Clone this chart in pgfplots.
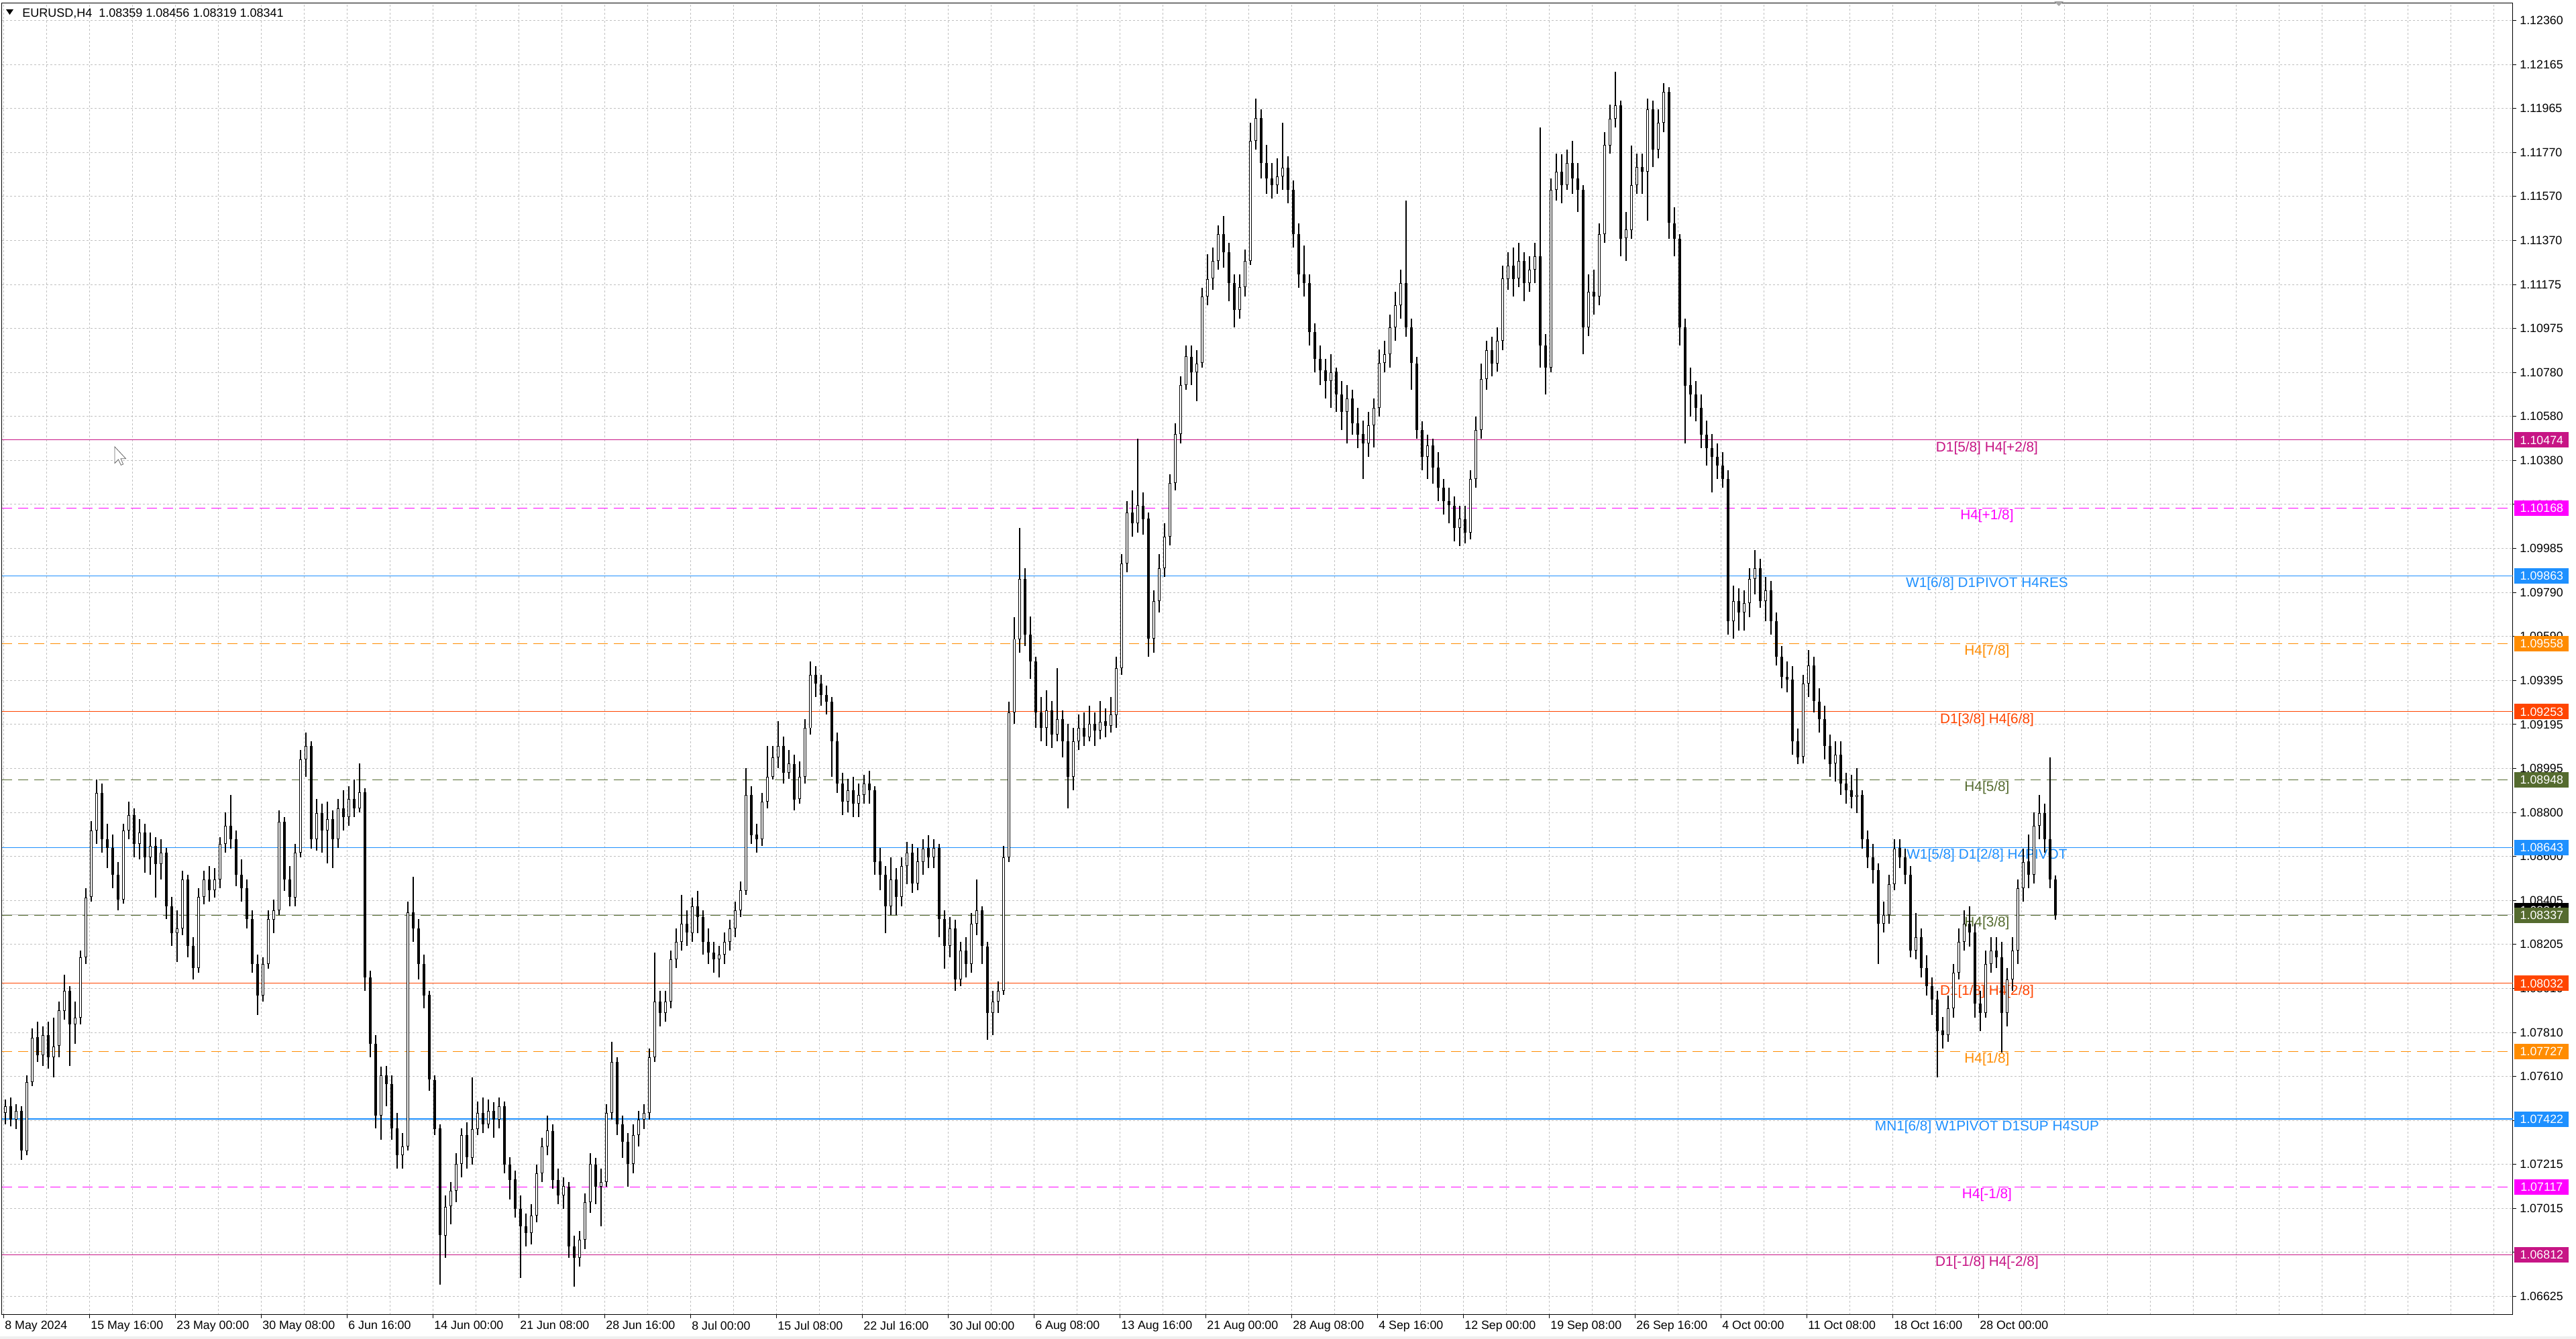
\documentclass[border=0pt]{standalone}
\usepackage{fontspec}
\setmainfont{Liberation Sans}
\usepackage{pgfplots}
\usepackage{pgfplotstable}
\pgfplotsset{compat=1.18}

\definecolor{mvred}{RGB}{199,21,133}
\definecolor{mag}{RGB}{255,0,255}
\definecolor{dblue}{RGB}{30,144,255}
\definecolor{dorange}{RGB}{255,140,0}
\definecolor{ored}{RGB}{255,69,0}
\definecolor{dolive}{RGB}{85,107,47}
\definecolor{gridc}{RGB}{192,192,192}

% EURUSD H4, one row per two H4 bars: open high low close
\pgfplotstableread{
o h l c
1.0745 1.0751 1.0740 1.0748
1.0748 1.0752 1.0739 1.0742
1.0742 1.0749 1.0738 1.0746
1.0746 1.0748 1.0724 1.0728
1.0728 1.0762 1.0726 1.0759
1.0759 1.0783 1.0757 1.0779
1.0779 1.0786 1.0768 1.0771
1.0771 1.0784 1.0766 1.0780
1.0780 1.0786 1.0765 1.0770
1.0770 1.0788 1.0761 1.0775
1.0775 1.0795 1.0770 1.0791
1.0791 1.0807 1.0787 1.0800
1.0800 1.0802 1.0766 1.0785
1.0785 1.0795 1.0776 1.0788
1.0788 1.0818 1.0785 1.0815
1.0815 1.0846 1.0812 1.0842
1.0842 1.0876 1.0840 1.0872
1.0872 1.0895 1.0866 1.0889
1.0889 1.0893 1.0862 1.0868
1.0868 1.0875 1.0855 1.0864
1.0864 1.0870 1.0846 1.0852
1.0852 1.0858 1.0836 1.0841
1.0841 1.0875 1.0839 1.0872
1.0872 1.0885 1.0868 1.0879
1.0879 1.0882 1.0860 1.0866
1.0866 1.0877 1.0859 1.0871
1.0871 1.0875 1.0853 1.0860
1.0860 1.0871 1.0852 1.0865
1.0865 1.0869 1.0842 1.0857
1.0857 1.0868 1.0850 1.0862
1.0862 1.0864 1.0832 1.0838
1.0838 1.0842 1.0820 1.0826
1.0826 1.0836 1.0813 1.0828
1.0828 1.0854 1.0825 1.0850
1.0850 1.0852 1.0815 1.0820
1.0820 1.0824 1.0805 1.0810
1.0810 1.0846 1.0808 1.0842
1.0842 1.0854 1.0839 1.0850
1.0850 1.0856 1.0840 1.0845
1.0845 1.0855 1.0842 1.0850
1.0850 1.0869 1.0846 1.0866
1.0866 1.0880 1.0862 1.0874
1.0874 1.0888 1.0864 1.0868
1.0868 1.0872 1.0847 1.0852
1.0852 1.0859 1.0840 1.0846
1.0846 1.0850 1.0828 1.0832
1.0832 1.0836 1.0808 1.0812
1.0812 1.0816 1.0789 1.0798
1.0798 1.0815 1.0795 1.0812
1.0812 1.0836 1.0810 1.0832
1.0832 1.0841 1.0826 1.0836
1.0836 1.0881 1.0834 1.0876
1.0876 1.0878 1.0845 1.0850
1.0850 1.0856 1.0838 1.0842
1.0842 1.0866 1.0838 1.0862
1.0862 1.0908 1.0860 1.0904
1.0904 1.0916 1.0896 1.0910
1.0910 1.0912 1.0864 1.0868
1.0868 1.0886 1.0863 1.0880
1.0880 1.0884 1.0862 1.0872
1.0872 1.0885 1.0857 1.0877
1.0877 1.0881 1.0855 1.0868
1.0868 1.0886 1.0864 1.0882
1.0882 1.0890 1.0872 1.0878
1.0878 1.0892 1.0874 1.0886
1.0886 1.0895 1.0878 1.0882
1.0882 1.0902 1.0880 1.0889
1.0889 1.0891 1.0800 1.0806
1.0806 1.0809 1.0770 1.0776
1.0776 1.0780 1.0738 1.0744
1.0744 1.0766 1.0733 1.0762
1.0762 1.0766 1.0748 1.0758
1.0758 1.0762 1.0733 1.0738
1.0738 1.0745 1.0720 1.0726
1.0726 1.0736 1.0720 1.0730
1.0730 1.0840 1.0728 1.0835
1.0835 1.0851 1.0822 1.0828
1.0828 1.0832 1.0805 1.0812
1.0812 1.0816 1.0792 1.0798
1.0798 1.0800 1.0755 1.0760
1.0760 1.0762 1.0735 1.0738
1.0738 1.0740 1.0668 1.0690
1.0690 1.0708 1.0680 1.0703
1.0703 1.0714 1.0695 1.0710
1.0710 1.0727 1.0705 1.0722
1.0722 1.0738 1.0716 1.0735
1.0735 1.0741 1.0720 1.0725
1.0725 1.0761 1.0722 1.0738
1.0738 1.0750 1.0735 1.0745
1.0745 1.0752 1.0736 1.0740
1.0740 1.0751 1.0738 1.0746
1.0746 1.0750 1.0734 1.0742
1.0742 1.0752 1.0738 1.0748
1.0748 1.0750 1.0718 1.0722
1.0722 1.0725 1.0706 1.0715
1.0715 1.0719 1.0698 1.0702
1.0702 1.0708 1.0671 1.0694
1.0694 1.0700 1.0685 1.0691
1.0691 1.0704 1.0686 1.0699
1.0699 1.0722 1.0696 1.0718
1.0718 1.0734 1.0714 1.0730
1.0730 1.0744 1.0726 1.0737
1.0737 1.0740 1.0711 1.0715
1.0715 1.0720 1.0704 1.0708
1.0708 1.0716 1.0702 1.0712
1.0712 1.0714 1.0680 1.0685
1.0685 1.0690 1.0667 1.0680
1.0680 1.0692 1.0676 1.0688
1.0688 1.0709 1.0684 1.0705
1.0705 1.0727 1.0700 1.0722
1.0722 1.0725 1.0704 1.0712
1.0712 1.0720 1.0694 1.0714
1.0714 1.0749 1.0712 1.0745
1.0745 1.0777 1.0742 1.0768
1.0768 1.0770 1.0735 1.0740
1.0740 1.0744 1.0725 1.0732
1.0732 1.0736 1.0712 1.0722
1.0722 1.0740 1.0718 1.0735
1.0735 1.0746 1.0730 1.0742
1.0742 1.0749 1.0738 1.0745
1.0745 1.0774 1.0742 1.0770
1.0770 1.0817 1.0768 1.0795
1.0795 1.0800 1.0784 1.0790
1.0790 1.0800 1.0786 1.0795
1.0795 1.0818 1.0792 1.0814
1.0814 1.0828 1.0810 1.0822
1.0822 1.0843 1.0818 1.0830
1.0830 1.0836 1.0820 1.0826
1.0826 1.0842 1.0822 1.0838
1.0838 1.0845 1.0826 1.0833
1.0833 1.0836 1.0816 1.0822
1.0822 1.0828 1.0812 1.0817
1.0817 1.0822 1.0808 1.0814
1.0814 1.0820 1.0806 1.0816
1.0816 1.0826 1.0812 1.0822
1.0822 1.0832 1.0818 1.0828
1.0828 1.0840 1.0824 1.0836
1.0836 1.0849 1.0833 1.0845
1.0845 1.0900 1.0843 1.0888
1.0888 1.0892 1.0866 1.0870
1.0870 1.0875 1.0862 1.0868
1.0868 1.0889 1.0865 1.0885
1.0885 1.0910 1.0882 1.0896
1.0896 1.0910 1.0895 1.0905
1.0905 1.0921 1.0900 1.0910
1.0910 1.0914 1.0893 1.0898
1.0898 1.0908 1.0895 1.0902
1.0902 1.0906 1.0881 1.0886
1.0886 1.0903 1.0884 1.0896
1.0896 1.0922 1.0893 1.0918
1.0918 1.0948 1.0915 1.0942
1.0942 1.0946 1.0932 1.0938
1.0938 1.0942 1.0928 1.0933
1.0933 1.0937 1.0924 1.0930
1.0930 1.0932 1.0896 1.0912
1.0912 1.0916 1.0889 1.0893
1.0893 1.0898 1.0879 1.0885
1.0885 1.0895 1.0880 1.0890
1.0890 1.0896 1.0878 1.0884
1.0884 1.0893 1.0878 1.0888
1.0888 1.0897 1.0884 1.0893
1.0893 1.0899 1.0884 1.0890
1.0890 1.0892 1.0852 1.0858
1.0858 1.0864 1.0845 1.0852
1.0852 1.0856 1.0826 1.0838
1.0838 1.0860 1.0834 1.0850
1.0850 1.0855 1.0834 1.0842
1.0842 1.0860 1.0838 1.0856
1.0856 1.0867 1.0848 1.0862
1.0862 1.0866 1.0844 1.0848
1.0848 1.0864 1.0845 1.0858
1.0858 1.0868 1.0852 1.0864
1.0864 1.0870 1.0855 1.0860
1.0860 1.0868 1.0855 1.0864
1.0864 1.0866 1.0824 1.0832
1.0832 1.0836 1.0810 1.0820
1.0820 1.0833 1.0815 1.0828
1.0828 1.0832 1.0800 1.0805
1.0805 1.0822 1.0802 1.0818
1.0818 1.0824 1.0806 1.0812
1.0812 1.0835 1.0808 1.0830
1.0830 1.0850 1.0825 1.0836
1.0836 1.0838 1.0812 1.0820
1.0820 1.0822 1.0778 1.0790
1.0790 1.0800 1.0780 1.0795
1.0795 1.0804 1.0790 1.0800
1.0800 1.0865 1.0798 1.0860
1.0860 1.0930 1.0858 1.0925
1.0925 1.0968 1.0920 1.0958
1.0958 1.1008 1.0952 1.0985
1.0985 1.0990 1.0955 1.0960
1.0960 1.0968 1.0940 1.0948
1.0948 1.0950 1.0918 1.0925
1.0925 1.0932 1.0912 1.0918
1.0918 1.0935 1.0910 1.0926
1.0926 1.0930 1.0909 1.0915
1.0915 1.0945 1.0912 1.0922
1.0922 1.0926 1.0905 1.0912
1.0912 1.0920 1.0882 1.0896
1.0896 1.0918 1.0890 1.0912
1.0912 1.0924 1.0908 1.0918
1.0918 1.0925 1.0910 1.0914
1.0914 1.0928 1.0912 1.0920
1.0920 1.0925 1.0910 1.0917
1.0917 1.0930 1.0913 1.0921
1.0921 1.0927 1.0914 1.0919
1.0919 1.0932 1.0916 1.0924
1.0924 1.0950 1.0918 1.0945
1.0945 1.0996 1.0942 1.0992
1.0992 1.1020 1.0988 1.1015
1.1015 1.1025 1.1004 1.1010
1.1010 1.1048 1.1006 1.1018
1.1018 1.1024 1.1005 1.1012
1.1012 1.1015 1.0950 1.0958
1.0958 1.0980 1.0952 1.0975
1.0975 1.0996 1.0970 1.0990
1.0990 1.1010 1.0986 1.1004
1.1004 1.1032 1.1000 1.1028
1.1028 1.1055 1.1025 1.1050
1.1050 1.1076 1.1046 1.1072
1.1072 1.1090 1.1070 1.1085
1.1085 1.1090 1.1072 1.1078
1.1078 1.1088 1.1065 1.1082
1.1082 1.1116 1.1080 1.1112
1.1112 1.1131 1.1108 1.1120
1.1120 1.1134 1.1115 1.1128
1.1128 1.1144 1.1124 1.1140
1.1140 1.1148 1.1125 1.1132
1.1132 1.1136 1.1110 1.1118
1.1118 1.1122 1.1098 1.1106
1.1106 1.1122 1.1102 1.1116
1.1116 1.1133 1.1112 1.1128
1.1128 1.1190 1.1126 1.1182
1.1182 1.1201 1.1178 1.1192
1.1192 1.1196 1.1165 1.1172
1.1172 1.1180 1.1158 1.1165
1.1165 1.1172 1.1156 1.1162
1.1162 1.1174 1.1158 1.1166
1.1166 1.1190 1.1160 1.1170
1.1170 1.1175 1.1154 1.1160
1.1160 1.1164 1.1134 1.1140
1.1140 1.1145 1.1116 1.1122
1.1122 1.1135 1.1112 1.1118
1.1118 1.1122 1.1090 1.1096
1.1096 1.1100 1.1078 1.1084
1.1084 1.1090 1.1072 1.1079
1.1079 1.1084 1.1066 1.1074
1.1074 1.1086 1.1062 1.1078
1.1078 1.1080 1.1060 1.1068
1.1068 1.1074 1.1052 1.1060
1.1060 1.1072 1.1046 1.1066
1.1066 1.1070 1.1050 1.1055
1.1055 1.1062 1.1044 1.1050
1.1050 1.1056 1.1030 1.1046
1.1046 1.1060 1.1040 1.1054
1.1054 1.1066 1.1044 1.1062
1.1062 1.1088 1.1058 1.1082
1.1082 1.1092 1.1078 1.1086
1.1086 1.1104 1.1080 1.1098
1.1098 1.1114 1.1092 1.1108
1.1108 1.1124 1.1102 1.1118
1.1118 1.1155 1.1094 1.1098
1.1098 1.1102 1.1070 1.1082
1.1082 1.1085 1.1048 1.1052
1.1052 1.1056 1.1034 1.1040
1.1040 1.1050 1.1030 1.1045
1.1045 1.1048 1.1028 1.1035
1.1035 1.1042 1.1020 1.1026
1.1026 1.1030 1.1014 1.1020
1.1020 1.1026 1.1010 1.1018
1.1018 1.1022 1.1002 1.1008
1.1008 1.1018 1.1000 1.1012
1.1012 1.1018 1.1001 1.1006
1.1006 1.1034 1.1003 1.1030
1.1030 1.1058 1.1026 1.1052
1.1052 1.1082 1.1048 1.1075
1.1075 1.1092 1.1070 1.1088
1.1088 1.1094 1.1076 1.1082
1.1082 1.1098 1.1078 1.1092
1.1092 1.1126 1.1088 1.1120
1.1120 1.1132 1.1115 1.1126
1.1126 1.1134 1.1112 1.1120
1.1120 1.1136 1.1116 1.1128
1.1128 1.1132 1.1110 1.1118
1.1118 1.1130 1.1114 1.1124
1.1124 1.1136 1.1118 1.1130
1.1130 1.1188 1.1080 1.1090
1.1090 1.1095 1.1068 1.1080
1.1080 1.1165 1.1078 1.1160
1.1160 1.1176 1.1155 1.1168
1.1168 1.1176 1.1154 1.1162
1.1162 1.1178 1.1160 1.1172
1.1172 1.1182 1.1158 1.1165
1.1165 1.1172 1.1150 1.1160
1.1160 1.1162 1.1086 1.1098
1.1098 1.1122 1.1094 1.1114
1.1114 1.1124 1.1104 1.1112
1.1112 1.1145 1.1108 1.1140
1.1140 1.1186 1.1136 1.1180
1.1180 1.1198 1.1176 1.1192
1.1192 1.1213 1.1188 1.1198
1.1198 1.1200 1.1130 1.1138
1.1138 1.1150 1.1128 1.1142
1.1142 1.1180 1.1138 1.1162
1.1162 1.1176 1.1158 1.1170
1.1170 1.1176 1.1158 1.1168
1.1168 1.1201 1.1146 1.1196
1.1196 1.1200 1.1170 1.1178
1.1178 1.1196 1.1174 1.1190
1.1190 1.1208 1.1186 1.1204
1.1204 1.1206 1.1138 1.1145
1.1145 1.1152 1.1130 1.1138
1.1138 1.1140 1.1090 1.1098
1.1098 1.1102 1.1046 1.1072
1.1072 1.1080 1.1058 1.1068
1.1068 1.1074 1.1056 1.1062
1.1062 1.1068 1.1044 1.1050
1.1050 1.1056 1.1036 1.1044
1.1044 1.1050 1.1024 1.1040
1.1040 1.1046 1.1030 1.1036
1.1036 1.1042 1.1026 1.1030
1.1030 1.1034 1.0960 1.0966
1.0966 1.0982 1.0958 1.0975
1.0975 1.0981 1.0962 1.0970
1.0970 1.0980 1.0962 1.0974
1.0974 1.0990 1.0968 1.0985
1.0985 1.0998 1.0978 1.0990
1.0990 1.0994 1.0972 1.0975
1.0975 1.0986 1.0966 1.0980
1.0980 1.0984 1.0960 1.0966
1.0966 1.0970 1.0946 1.0950
1.0950 1.0955 1.0936 1.0941
1.0941 1.0948 1.0934 1.0940
1.0940 1.0946 1.0906 1.0912
1.0912 1.0918 1.0902 1.0905
1.0905 1.0942 1.0902 1.0938
1.0938 1.0953 1.0932 1.0946
1.0946 1.0950 1.0925 1.0930
1.0930 1.0936 1.0916 1.0922
1.0922 1.0928 1.0904 1.0910
1.0910 1.0915 1.0896 1.0902
1.0902 1.0912 1.0894 1.0906
1.0906 1.0912 1.0888 1.0893
1.0893 1.0898 1.0884 1.0890
1.0890 1.0897 1.0882 1.0887
1.0887 1.0900 1.0880 1.0888
1.0888 1.0890 1.0864 1.0868
1.0868 1.0872 1.0855 1.0860
1.0860 1.0866 1.0848 1.0854
1.0854 1.0857 1.0812 1.0830
1.0830 1.0840 1.0826 1.0834
1.0834 1.0852 1.0830 1.0848
1.0848 1.0868 1.0845 1.0864
1.0864 1.0868 1.0855 1.0860
1.0860 1.0864 1.0848 1.0852
1.0852 1.0856 1.0815 1.0818
1.0818 1.0835 1.0814 1.0824
1.0824 1.0828 1.0806 1.0810
1.0810 1.0816 1.0798 1.0802
1.0802 1.0806 1.0789 1.0796
1.0796 1.0800 1.0761 1.0782
1.0782 1.0788 1.0774 1.0780
1.0780 1.0798 1.0777 1.0792
1.0792 1.0812 1.0788 1.0808
1.0808 1.0828 1.0805 1.0822
1.0822 1.0836 1.0818 1.0830
1.0830 1.0838 1.0820 1.0826
1.0826 1.0830 1.0788 1.0794
1.0794 1.0800 1.0782 1.0790
1.0790 1.0818 1.0788 1.0812
1.0812 1.0824 1.0808 1.0818
1.0818 1.0824 1.0810 1.0815
1.0815 1.0822 1.0772 1.0790
1.0790 1.0810 1.0784 1.0805
1.0805 1.0824 1.0800 1.0818
1.0818 1.0850 1.0812 1.0846
1.0846 1.0864 1.0840 1.0858
1.0858 1.0870 1.0846 1.0852
1.0852 1.0880 1.0848 1.0874
1.0874 1.0888 1.0868 1.0880
1.0880 1.0884 1.0862 1.0868
1.0868 1.0905 1.0846 1.0850
1.0850 1.0852 1.08319 1.08341
}\candles

\begin{document}
\begin{tikzpicture}
\fill[white] (0,0) rectangle (1920pt,998pt);
\fill[black!6] (0,0) rectangle (1920pt,2pt);
\path[use as bounding box] (0,0) rectangle (1920pt,998pt);
\begin{axis}[
    at={(1.5pt,18pt)}, anchor=south west,
    width=1871.5pt, height=977.5pt, scale only axis,
    xmin=-0.75, xmax=935,
    ymin=1.065424, ymax=1.124368,
    axis line style={black, line width=0.5pt},
    xtick={0,32,...,736},
    xticklabels={8 May 2024,15 May 16:00,23 May 00:00,30 May 08:00,6 Jun 16:00,14 Jun 00:00,21 Jun 08:00,28 Jun 16:00,8 Jul 00:00,15 Jul 08:00,22 Jul 16:00,30 Jul 00:00,6 Aug 08:00,13 Aug 16:00,21 Aug 00:00,28 Aug 08:00,4 Sep 16:00,12 Sep 00:00,19 Sep 08:00,26 Sep 16:00,4 Oct 00:00,11 Oct 08:00,18 Oct 16:00,28 Oct 00:00},
    minor xtick={0,16,...,928},
    ytick={1.123600,1.121622,1.119645,1.117667,1.115690,1.113712,1.111734,1.109757,1.107779,1.105802,1.103824,1.101847,1.099869,1.097891,1.095914,1.093936,1.091959,1.089981,1.088003,1.086026,1.084048,1.082071,1.080093,1.078116,1.076138,1.074160,1.072183,1.070205,1.068228,1.066250},
    yticklabels={1.12360,1.12165,1.11965,1.11770,1.11570,1.11370,1.11175,1.10975,1.10780,1.10580,1.10380,1.10185,1.09985,1.09790,1.09590,1.09395,1.09195,1.08995,1.08800,1.08600,1.08405,1.08205,1.08010,1.07810,1.07610,1.07415,1.07215,1.07015,1.06820,1.06625},
    xminorgrids=true, xmajorgrids=false, ymajorgrids=true,
    major grid style={gridc, line width=0.5pt, dash pattern=on 1.5pt off 1.5pt},
    minor grid style={gridc, line width=0.5pt, dash pattern=on 1.5pt off 1.5pt},
    xtick pos=bottom, ytick pos=right, yticklabel pos=right,
    tick align=outside, major tick length=2.5pt, minor tick length=0pt,
    tick style={black, line width=0.5pt},
    xticklabel style={font=\fontsize{8.9}{10}\selectfont, anchor=north west, inner sep=0pt, xshift=0.5pt, yshift=-2pt},
    yticklabel style={font=\fontsize{8.9}{10}\selectfont, anchor=west, inner sep=0pt, xshift=2.5pt},
]
% level lines
\addplot[mvred, line width=0.5pt] coordinates {(-0.75,1.10474) (935,1.10474)};
\addplot[mag, line width=0.5pt, dash pattern=on 7.5pt off 4.5pt] coordinates {(-0.75,1.10168) (935,1.10168)};
\addplot[dblue, line width=0.5pt] coordinates {(-0.75,1.09863) (935,1.09863)};
\addplot[dorange, line width=0.5pt, dash pattern=on 7.5pt off 4.5pt] coordinates {(-0.75,1.09558) (935,1.09558)};
\addplot[ored, line width=0.5pt] coordinates {(-0.75,1.09253) (935,1.09253)};
\addplot[dolive, line width=0.5pt, dash pattern=on 7.5pt off 4.5pt] coordinates {(-0.75,1.08948) (935,1.08948)};
\addplot[dblue, line width=0.5pt] coordinates {(-0.75,1.08643) (935,1.08643)};
\addplot[gridc, line width=0.5pt] coordinates {(-0.75,1.08341) (935,1.08341)};
\addplot[dolive, line width=0.5pt, dash pattern=on 7.5pt off 4.5pt] coordinates {(-0.75,1.08337) (935,1.08337)};
\addplot[ored, line width=0.5pt] coordinates {(-0.75,1.08032) (935,1.08032)};
\addplot[dorange, line width=0.5pt, dash pattern=on 7.5pt off 4.5pt] coordinates {(-0.75,1.07727) (935,1.07727)};
\addplot[dblue, line width=1pt] coordinates {(-0.75,1.07422) (935,1.07422)};
\addplot[mag, line width=0.5pt, dash pattern=on 7.5pt off 4.5pt] coordinates {(-0.75,1.07117) (935,1.07117)};
\addplot[mvred, line width=0.5pt] coordinates {(-0.75,1.06812) (935,1.06812)};

% level names
\begin{scope}[every node/.style={anchor=north, inner sep=0pt, yshift=-0.8pt, font=\fontsize{10.4}{12}\selectfont}]
\node[text=mvred]   at (axis cs:739,1.10474) {D1[5/8] H4[+2/8]};
\node[text=mag]     at (axis cs:739,1.10168) {H4[+1/8]};
\node[text=dblue]   at (axis cs:739,1.09863) {W1[6/8] D1PIVOT H4RES};
\node[text=dorange] at (axis cs:739,1.09558) {H4[7/8]};
\node[text=ored]    at (axis cs:739,1.09253) {D1[3/8] H4[6/8]};
\node[text=dolive]  at (axis cs:739,1.08948) {H4[5/8]};
\node[text=dblue]   at (axis cs:739,1.08643) {W1[5/8] D1[2/8] H4PIVOT};
\node[text=dolive]  at (axis cs:739,1.08337) {H4[3/8]};
\node[text=ored]    at (axis cs:739,1.08032) {D1[1/8] H4[2/8]};
\node[text=dorange] at (axis cs:739,1.07727) {H4[1/8]};
\node[text=dblue]   at (axis cs:739,1.07422) {MN1[6/8] W1PIVOT D1SUP H4SUP};
\node[text=mag]     at (axis cs:739,1.07117) {H4[-1/8]};
\node[text=mvred]   at (axis cs:739,1.06812) {D1[-1/8] H4[-2/8]};
\end{scope}

% candles: wicks, bodies, hollow inside of bull bodies
\addplot[draw=none, mark=none, forget plot,
    error bars/.cd, y dir=both, y explicit, error mark=none,
    error bar style={draw=black, solid, line width=0.6pt}]
    table[x expr=2*\coordindex+0.5, y expr={(\thisrow{h}+\thisrow{l})/2},
          y error expr={(\thisrow{h}-\thisrow{l})/2}] {\candles};
\addplot[draw=none, mark=none, forget plot,
    error bars/.cd, y dir=both, y explicit, error mark=none,
    error bar style={draw=black, solid, line width=2.4pt}]
    table[x expr=2*\coordindex+0.5, y expr={(\thisrow{o}+\thisrow{c})/2},
          y error expr={max(abs(\thisrow{c}-\thisrow{o})/2,0.000016)}] {\candles};
\addplot[draw=none, mark=none, forget plot,
    error bars/.cd, y dir=both, y explicit, error mark=none,
    error bar style={draw=white, solid, line width=1.1pt}]
    table[x expr=2*\coordindex+0.5, y expr={(\thisrow{o}+\thisrow{c})/2},
          y error expr={max((\thisrow{c}-\thisrow{o})/2-0.00003,0)}] {\candles};

\coordinate (L1) at (axis cs:935,1.10474);
\coordinate (L2) at (axis cs:935,1.10168);
\coordinate (L3) at (axis cs:935,1.09863);
\coordinate (L4) at (axis cs:935,1.09558);
\coordinate (L5) at (axis cs:935,1.09253);
\coordinate (L6) at (axis cs:935,1.08948);
\coordinate (L7) at (axis cs:935,1.08643);
\coordinate (LB) at (axis cs:935,1.08341);
\coordinate (L8) at (axis cs:935,1.08337);
\coordinate (L9) at (axis cs:935,1.08032);
\coordinate (L10) at (axis cs:935,1.07727);
\coordinate (L11) at (axis cs:935,1.07422);
\coordinate (L12) at (axis cs:935,1.07117);
\coordinate (L13) at (axis cs:935,1.06812);
\end{axis}

% price boxes on the scale
\begin{scope}[every node/.style={anchor=west, xshift=1pt, inner sep=0pt, minimum width=40.5pt, minimum height=11.5pt, text=white, font=\fontsize{8.9}{10}\selectfont}]
\node[fill=mvred]   at (L1) {1.10474};
\node[fill=mag]     at (L2) {1.10168};
\node[fill=dblue]   at (L3) {1.09863};
\node[fill=dorange] at (L4) {1.09558};
\node[fill=ored]    at (L5) {1.09253};
\node[fill=dolive]  at (L6) {1.08948};
\node[fill=dblue]   at (L7) {1.08643};
\node[fill=black, yshift=3pt] at (LB) {1.08341};
\node[fill=dolive]  at (L8) {1.08337};
\node[fill=ored]    at (L9) {1.08032};
\node[fill=dorange] at (L10) {1.07727};
\node[fill=dblue]   at (L11) {1.07422};
\node[fill=mag]     at (L12) {1.07117};
\node[fill=mvred]   at (L13) {1.06812};
\end{scope}

% chart header
\fill[black] (4.5pt,991pt) -- (10pt,991pt) -- (7.25pt,987pt) -- cycle;
\node[anchor=base west, inner sep=0pt, font=\fontsize{9}{10}\selectfont] at (16.5pt,985pt)
    {EURUSD,H4\ \ 1.08359 1.08456 1.08319 1.08341};
% end-of-chart marker and mouse pointer
\fill[black!35] (1531pt,997pt) -- (1538pt,997pt) -- (1534.5pt,993.5pt) -- cycle;
\begin{scope}[shift={(85.5pt,665pt)}, x=0.72pt, y=0.72pt]
\filldraw[fill=white, draw=black!60, line width=0.4pt]
    (0,0) -- (0,-17) -- (3.8,-13.2) -- (6.5,-19) -- (8.8,-18) -- (6.3,-12.3) -- (11.5,-12.3) -- cycle;
\end{scope}
\end{tikzpicture}
\end{document}
